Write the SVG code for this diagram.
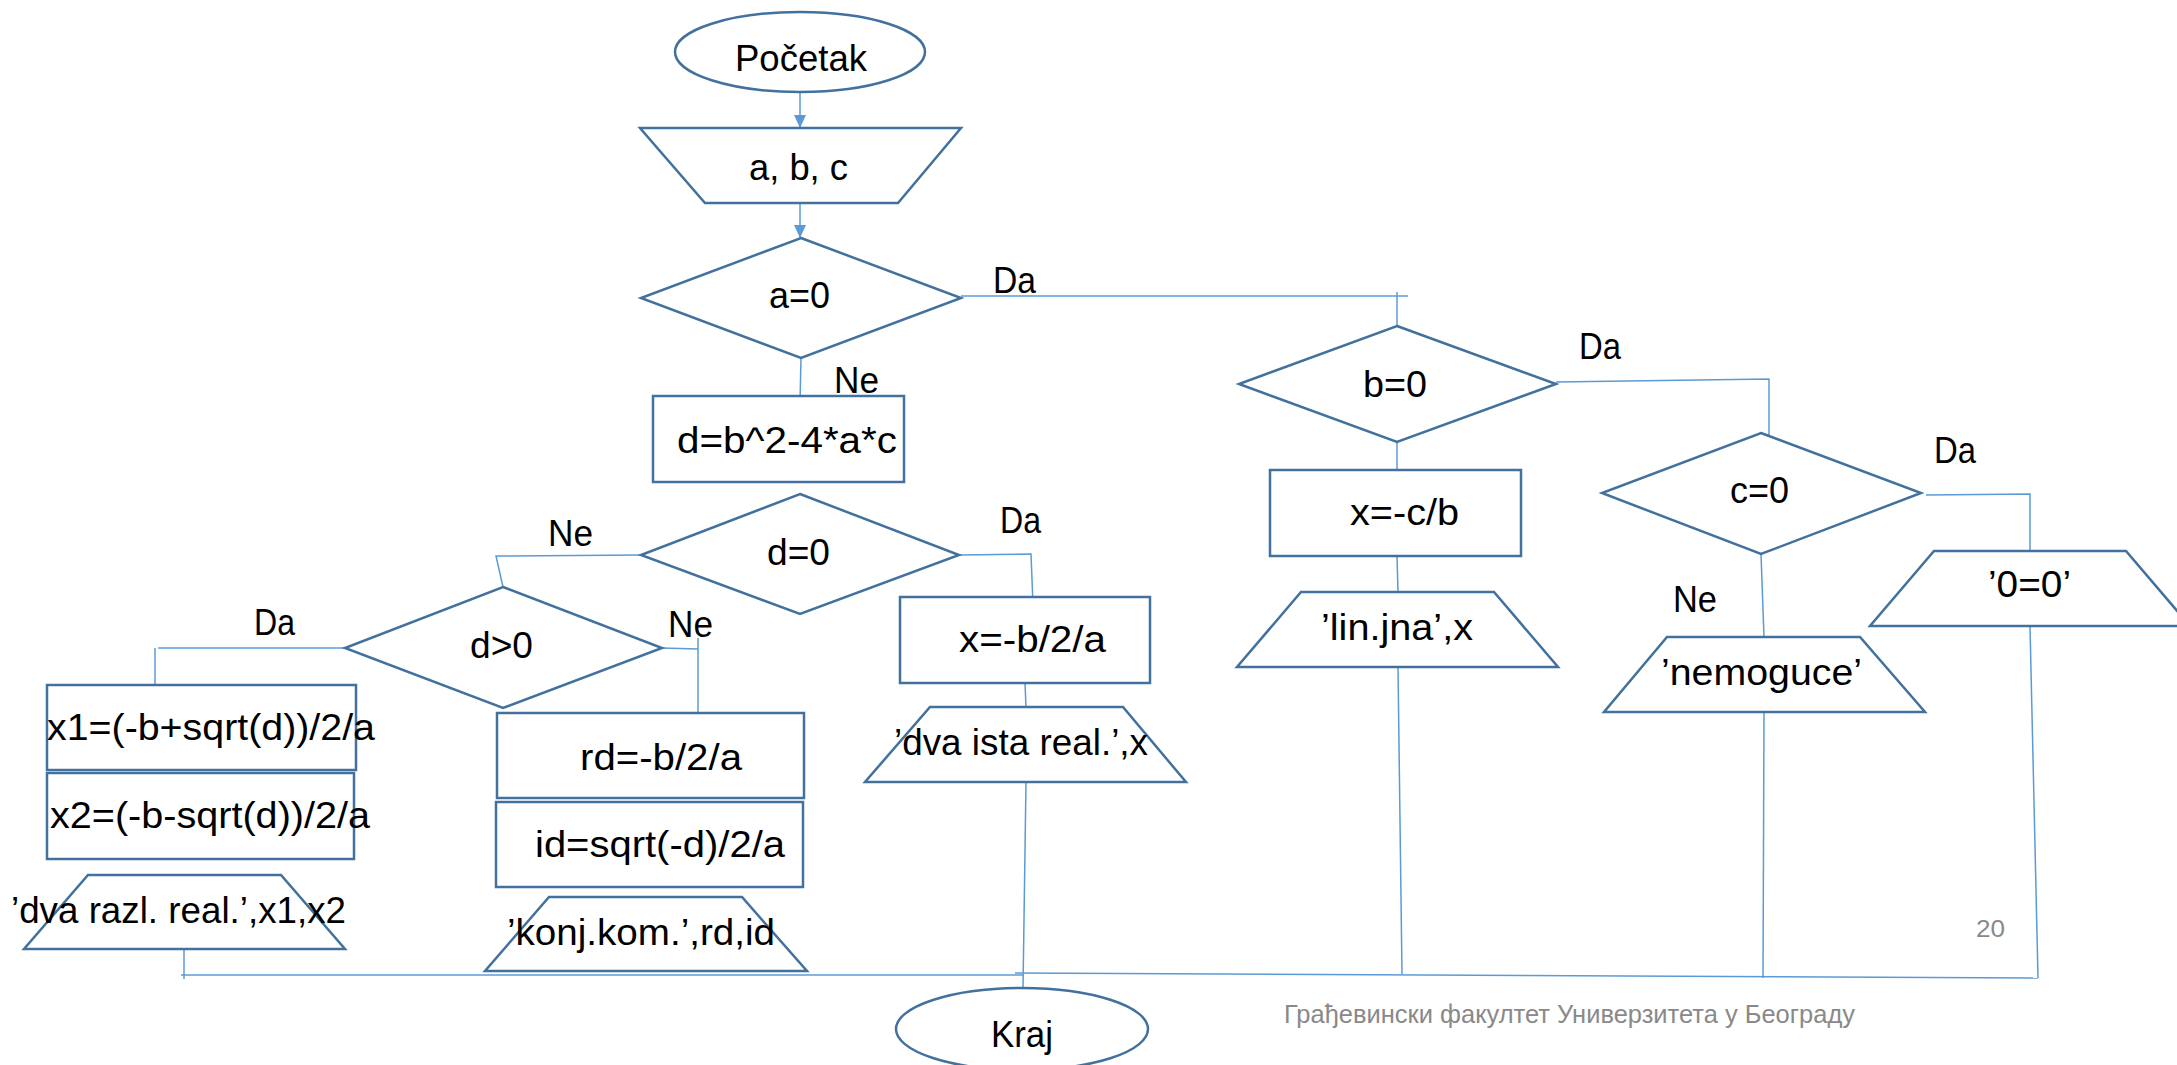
<svg xmlns="http://www.w3.org/2000/svg" width="2177" height="1065" viewBox="0 0 2177 1065">
<style>
.s{fill:#fff;stroke:#41719C;stroke-width:2.5}
.c{fill:none;stroke:#5B9BD5;stroke-width:1.5}
.t{font-family:"Liberation Sans",Arial,sans-serif;font-size:36px;fill:#000}
.g{font-family:"Liberation Sans",Arial,sans-serif;fill:#898989}
</style>
<defs>
<marker id="ah" markerUnits="userSpaceOnUse" markerWidth="13" markerHeight="12" refX="13" refY="6" orient="auto">
<path d="M0,0 L13,6 L0,12 z" fill="#5B9BD5"/>
</marker>
</defs>
<rect width="2177" height="1065" fill="#fff"/>
<g id="connectors">
<line class="c" x1="800" y1="91" x2="800" y2="128" marker-end="url(#ah)"/>
<line class="c" x1="800" y1="173" x2="800" y2="238" marker-end="url(#ah)"/>
<polyline class="c" points="961,296 1408,296"/>
<line class="c" x1="1397" y1="292" x2="1397" y2="326"/>
<line class="c" x1="801" y1="358" x2="800" y2="403"/>
<polyline class="c" points="641,555 496,556 503,587"/>
<polyline class="c" points="959,555 1031,554 1033,605"/>
<polyline class="c" points="345,648 158,648"/>
<line class="c" x1="155" y1="648" x2="155" y2="685"/>
<polyline class="c" points="662,648 698,649"/>
<line class="c" x1="698" y1="638" x2="698" y2="713"/>
<line class="c" x1="1025" y1="683" x2="1026" y2="707"/>
<line class="c" x1="1026" y1="782" x2="1023" y2="988"/>
<line class="c" x1="184" y1="949" x2="184" y2="979"/>
<line class="c" x1="181" y1="975" x2="1023" y2="975"/>
<line class="c" x1="1015" y1="973" x2="2038" y2="978"/>
<line class="c" x1="1398" y1="667" x2="1402" y2="974"/>
<line class="c" x1="1764" y1="712" x2="1763" y2="978"/>
<line class="c" x1="2030" y1="626" x2="2038" y2="978"/>
<line class="c" x1="1397" y1="442" x2="1397" y2="470"/>
<line class="c" x1="1397" y1="556" x2="1398" y2="592"/>
<polyline class="c" points="1556,382 1769,379 1769,448"/>
<polyline class="c" points="1926,495 2030,494 2030,563"/>
<line class="c" x1="1761" y1="554" x2="1764" y2="637"/>
</g>
<g id="n-start"><ellipse class="s" cx="800" cy="52" rx="125" ry="40"/><text class="t" x="735" y="71" textLength="132" lengthAdjust="spacingAndGlyphs">Početak</text></g>
<g id="n-input"><polygon class="s" points="640,128 961,128 898,203 705,203"/><text class="t" x="749" y="180" textLength="99" lengthAdjust="spacingAndGlyphs">a, b, c</text></g>
<g id="n-a0"><polygon class="s" points="801,238 961,298 801,358 641,298"/><text class="t" x="769" y="308" textLength="61" lengthAdjust="spacingAndGlyphs">a=0</text></g>
<g id="n-d"><rect class="s" x="653" y="396" width="251" height="86"/><text class="t" x="677" y="453" textLength="220" lengthAdjust="spacingAndGlyphs">d=b^2-4*a*c</text></g>
<g id="n-d0"><polygon class="s" points="800,494 959,555 800,614 641,555"/><text class="t" x="767" y="565" textLength="63" lengthAdjust="spacingAndGlyphs">d=0</text></g>
<g id="n-dgt0"><polygon class="s" points="503,587 662,648 503,708 345,648"/><text class="t" x="470" y="658" textLength="63" lengthAdjust="spacingAndGlyphs">d&gt;0</text></g>
<g id="n-x1"><rect class="s" x="47" y="685" width="309" height="85"/><text class="t" x="47" y="740" textLength="328" lengthAdjust="spacingAndGlyphs">x1=(-b+sqrt(d))/2/a</text></g>
<g id="n-x2"><rect class="s" x="47" y="773" width="307" height="86"/><text class="t" x="50" y="828" textLength="320" lengthAdjust="spacingAndGlyphs">x2=(-b-sqrt(d))/2/a</text></g>
<g id="n-out-razl"><polygon class="s" points="88,875 281,875 345,949 24,949"/><text class="t" x="11" y="923" textLength="335" lengthAdjust="spacingAndGlyphs">’dva razl. real.’,x1,x2</text></g>
<g id="n-rd"><rect class="s" x="497" y="713" width="307" height="85"/><text class="t" x="580" y="770" textLength="162" lengthAdjust="spacingAndGlyphs">rd=-b/2/a</text></g>
<g id="n-id"><rect class="s" x="496" y="802" width="307" height="85"/><text class="t" x="535" y="857" textLength="250" lengthAdjust="spacingAndGlyphs">id=sqrt(-d)/2/a</text></g>
<g id="n-out-konj"><polygon class="s" points="549,897 742,897 807,971 485,971"/><text class="t" x="507" y="945" textLength="268" lengthAdjust="spacingAndGlyphs">’konj.kom.’,rd,id</text></g>
<g id="n-xb"><rect class="s" x="900" y="597" width="250" height="86"/><text class="t" x="959" y="652" textLength="147" lengthAdjust="spacingAndGlyphs">x=-b/2/a</text></g>
<g id="n-out-ista"><polygon class="s" points="930,707 1123,707 1186,782 865,782"/><text class="t" x="894" y="755" textLength="254" lengthAdjust="spacingAndGlyphs">’dva ista real.’,x</text></g>
<g id="n-end"><ellipse class="s" cx="1022" cy="1029" rx="126" ry="41"/><text class="t" x="991" y="1047" textLength="62" lengthAdjust="spacingAndGlyphs">Kraj</text></g>
<g id="n-b0"><polygon class="s" points="1397,326 1556,384 1397,442 1239,384"/><text class="t" x="1363" y="397" textLength="64" lengthAdjust="spacingAndGlyphs">b=0</text></g>
<g id="n-xc"><rect class="s" x="1270" y="470" width="251" height="86"/><text class="t" x="1350" y="525" textLength="109" lengthAdjust="spacingAndGlyphs">x=-c/b</text></g>
<g id="n-out-lin"><polygon class="s" points="1301,592 1494,592 1558,667 1237,667"/><text class="t" x="1321" y="640" textLength="152" lengthAdjust="spacingAndGlyphs">’lin.jna’,x</text></g>
<g id="n-c0"><polygon class="s" points="1761,433 1921,493 1761,554 1602,493"/><text class="t" x="1730" y="503" textLength="59" lengthAdjust="spacingAndGlyphs">c=0</text></g>
<g id="n-out-nem"><polygon class="s" points="1667,637 1860,637 1925,712 1604,712"/><text class="t" x="1661" y="685" textLength="201" lengthAdjust="spacingAndGlyphs">’nemoguce’</text></g>
<g id="n-out-00"><polygon class="s" points="1934,551 2126,551 2190,626 1870,626"/><text class="t" x="1988" y="597" textLength="83" lengthAdjust="spacingAndGlyphs">’0=0’</text></g>
<g id="labels">
<text class="t" x="993" y="293" textLength="43" lengthAdjust="spacingAndGlyphs">Da</text>
<text class="t" x="834" y="393" textLength="45" lengthAdjust="spacingAndGlyphs">Ne</text>
<text class="t" x="548" y="546" textLength="45" lengthAdjust="spacingAndGlyphs">Ne</text>
<text class="t" x="1000" y="533" textLength="41" lengthAdjust="spacingAndGlyphs">Da</text>
<text class="t" x="254" y="635" textLength="41" lengthAdjust="spacingAndGlyphs">Da</text>
<text class="t" x="668" y="637" textLength="45" lengthAdjust="spacingAndGlyphs">Ne</text>
<text class="t" x="1579" y="359" textLength="42" lengthAdjust="spacingAndGlyphs">Da</text>
<text class="t" x="1934" y="463" textLength="42" lengthAdjust="spacingAndGlyphs">Da</text>
<text class="t" x="1673" y="612" textLength="44" lengthAdjust="spacingAndGlyphs">Ne</text>
</g>
<text class="g" x="1976" y="937" font-size="24" textLength="29" lengthAdjust="spacingAndGlyphs">20</text>
<text class="g" x="1284" y="1023" font-size="26" textLength="571" lengthAdjust="spacingAndGlyphs">Грађевински факултет Универзитета у Београду</text>
</svg>
